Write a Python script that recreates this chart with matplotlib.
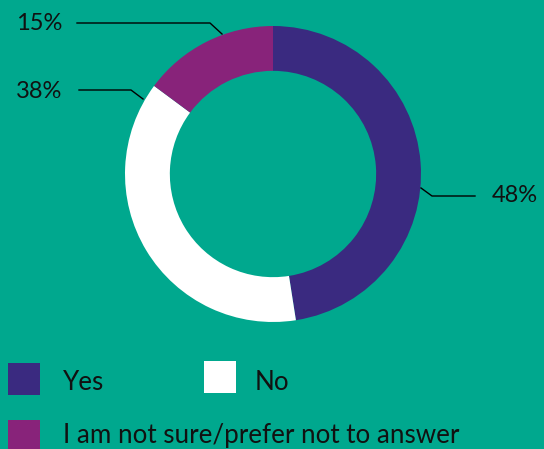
import matplotlib.pyplot as plt
from matplotlib.patches import Rectangle

# data
categories = ["Yes", "No", "I am not sure/prefer not to answer"]
shares = [48, 38, 15]
pct_labels = ["48%", "38%", "15%"]
colors = ["#3A2A80", "#FFFFFF", "#88237A"]
bg = "#00A88E"

W, H = 544, 449
fig = plt.figure(figsize=(W / 100, H / 100), dpi=100, facecolor=bg)
plt.rcParams['font.family'] = ['Lato', 'DejaVu Sans']

# donut
cx, cy, r = 273, 174, 148
ax = fig.add_axes([(cx - r) / W, (H - cy - r) / H, 2 * r / W, 2 * r / H])
ax.pie(shares, colors=colors, startangle=90, counterclock=False,
       wedgeprops=dict(width=0.303, linewidth=0))
ax.set_aspect('auto')
ax.set_xlim(-1, 1)
ax.set_ylim(-1, 1)
ax.axis('off')

# overlay in pixel coords for leader lines, labels and legend
ov = fig.add_axes([0, 0, 1, 1])
ov.set_xlim(0, W)
ov.set_ylim(H, 0)
ov.axis('off')

leaders = {
    "48%": ([421, 432, 475], [188, 196, 196], 492, 195, 'left'),
    "38%": ([79, 131, 143], [90, 90, 99], 62, 92, 'right'),
    "15%": ([77, 210, 222], [23, 23, 34], 62, 24, 'right'),
}
for lab in pct_labels:
    xs, ys, tx, ty, ha = leaders[lab]
    ov.plot(xs, ys, color="black", lw=1)
    ov.text(tx, ty, lab, fontsize=17, ha=ha, va='center', color="#111111")

# legend
legend_pos = [(8, 363, 63, 383), (204, 361, 255, 382), (8, 420, 63, 436)]
for name, col, (sx, sy, tx, ty) in zip(categories, colors, legend_pos):
    ov.add_patch(Rectangle((sx, sy), 32, 32, facecolor=col, edgecolor='none'))
    ov.text(tx, ty, name, fontsize=18.7, ha='left', va='center', color="#111111")

fig.savefig("out.png", dpi=100, facecolor=bg)
